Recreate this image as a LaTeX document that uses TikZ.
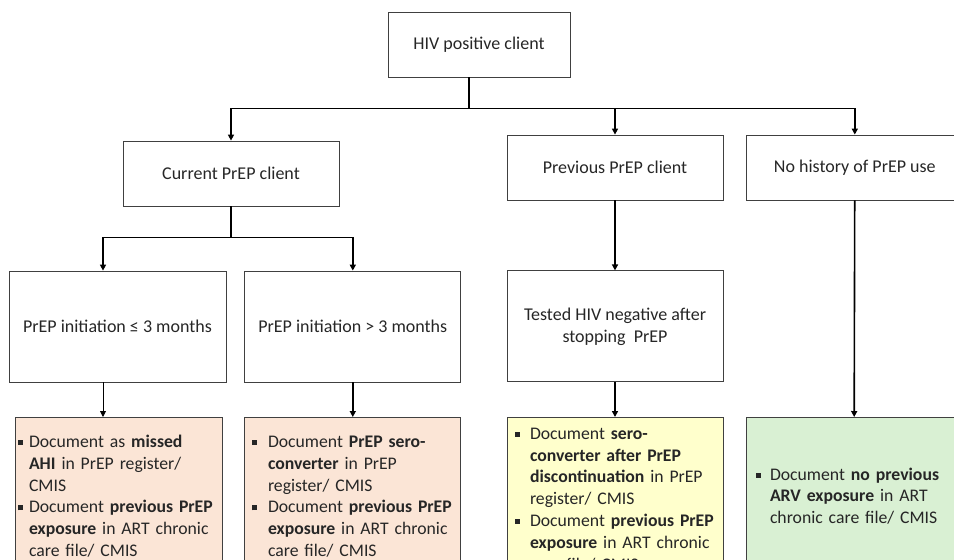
\documentclass[tikz,border=0pt]{standalone}
\usepackage{fontspec}
\setmainfont{Carlito}
\usetikzlibrary{positioning,arrows.meta}

\definecolor{pinkfill}{RGB}{251,229,214}
\definecolor{yellowfill}{RGB}{255,255,204}
\definecolor{greenfill}{RGB}{217,240,211}
\definecolor{edge}{RGB}{64,64,64}

% bullet paragraph, optional hang width
\newcommand{\bitem}[2][14pt]{\par\hangindent=#1\hangafter=1\rightskip=-10pt plus 1fil\noindent\makebox[#1][l]{\rule[2.5pt]{5pt}{5pt}}#2\par}

\begin{document}
\begin{tikzpicture}[x=1pt, y=-1pt,
    box/.style={rectangle, draw=edge, line width=0.8pt, minimum width=216pt, minimum height=65pt, align=center, font=\fontsize{18}{22}\selectfont, text=black!85},
    tall/.style={box, minimum height=111pt},
    note/.style={rectangle, draw=edge, line width=0.8pt, anchor=north, minimum width=216pt, minimum height=148pt, inner xsep=0pt, inner ysep=0pt, align=left, font=\fontsize{17.7}{21.8}\selectfont, text=black!85},
    missed/.style={note, fill=pinkfill},
    sero/.style={note, fill=yellowfill},
    noarv/.style={note, fill=greenfill},
    link/.style={line width=1.6pt},
    arrow/.style={link, -{Triangle[length=6pt,width=6pt]}},
    thinarrow/.style={arrow, line width=0.9pt}
]
\useasboundingbox (0,0) rectangle (954,560);
\clip (0,0) rectangle (954,560);

% Top level
\node[box, minimum width=182pt] (hiv) at (479,44.5) {HIV positive client};

% Client type
\node[box] (current) at (231,173.5) {Current PrEP client};
\node[box] (previous) at (615,167.5) {Previous PrEP client};
\node[box, right=23pt of previous] (nohist) {No history of PrEP use};

% Second level
\node[tall, minimum width=217pt] (init1) at (117.5,326.5) {PrEP initiation ≤ 3 months};
\node[tall, right=18pt of init1] (init2) {PrEP initiation > 3 months};
\node[tall, below=70pt of previous] (tested) {Tested HIV negative after\\stopping~ PrEP};

% Documentation boxes
\node[missed, minimum width=207pt, text width=201pt] (doc1) at (118.5,417) {%
  \bitem[11pt]{Document as \textbf{missed}\newline\textbf{AHI} in PrEP register/\newline CMIS}
  \bitem[11pt]{Document \textbf{previous PrEP}\newline\textbf{exposure} in ART chronic\newline care file/ CMIS}};
\node[missed, text width=200pt] (doc2) at (352,417) {%
  \bitem[16pt]{Document \textbf{PrEP sero-}\newline\textbf{converter} in PrEP\newline register/ CMIS}
  \bitem[16pt]{Document \textbf{previous PrEP}\newline\textbf{exposure} in ART chronic\newline care file/ CMIS}};
\node[sero, text width=200pt] (doc3) at (615,417) {%
  \bitem[15pt]{Document \textbf{sero-}\newline\textbf{converter after PrEP}\newline\textbf{discontinuation} in PrEP\newline register/ CMIS}
  \bitem[15pt]{Document \textbf{previous PrEP}\newline\textbf{exposure} in ART chronic\newline care file/ CMIS}};
\node[noarv, text width=196pt] (doc4) at (854,417) {%
  \bitem[14pt]{Document \textbf{no previous}\newline\textbf{ARV exposure} in ART\newline chronic care file/ CMIS}};

% Arrows - from HIV positive client
\draw[link] ([xshift=-10pt]hiv.south) -- ++(0,31) coordinate (split1);
\draw[arrow] (split1) -| (current.north);
\draw[arrow] (split1) -| (previous.north);
\draw[arrow] (split1) -| (nohist.north);

% Arrows - current client
\draw[link] (current.south) -- ++(0,31) coordinate (split2);
\draw[arrow] (split2) -| ([xshift=-14.5pt]init1.north);
\draw[arrow] (split2) -| (init2.north);

% Arrows - to documentation
\coordinate (out1) at ([xshift=-14.5pt]init1.south);
\draw[thinarrow] (out1) -- (out1 |- doc1.north);
\draw[arrow] (init2.south) -- (init2.south |- doc2.north);
\draw[arrow] (previous) -- (tested);
\draw[arrow] (tested) -- (doc3);
\draw[arrow] (nohist) -- (doc4);

\end{tikzpicture}
\end{document}
